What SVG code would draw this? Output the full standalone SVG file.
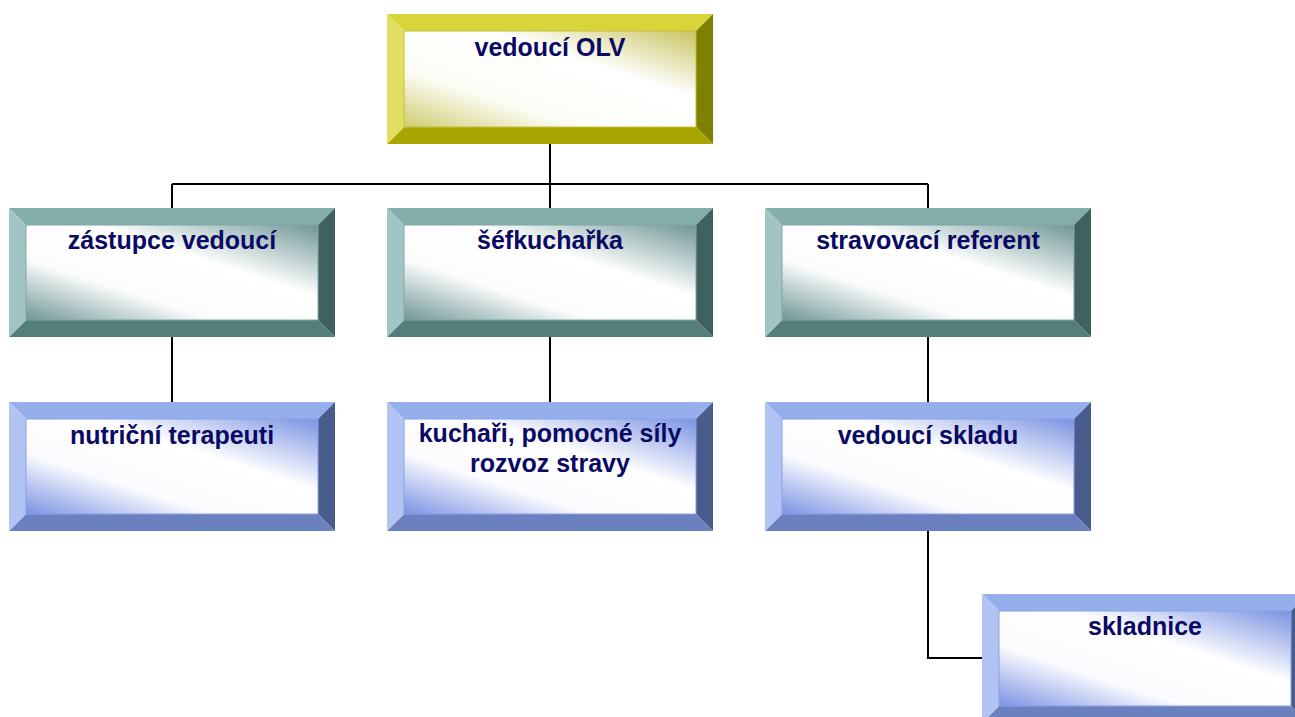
<svg xmlns="http://www.w3.org/2000/svg" width="1295" height="717" viewBox="0 0 1295 717">
<defs>
<linearGradient id="gY" x1="1" y1="0" x2="0" y2="1">
<stop offset="0" stop-color="#c8c460"/><stop offset="0.35" stop-color="#ffffff"/><stop offset="0.7" stop-color="#fdfdf6"/><stop offset="1" stop-color="#cfcc70"/>
</linearGradient>
<linearGradient id="gT" x1="1" y1="0" x2="0" y2="1">
<stop offset="0" stop-color="#6f9695"/><stop offset="0.38" stop-color="#ffffff"/><stop offset="0.68" stop-color="#fbfcfc"/><stop offset="1" stop-color="#6f9695"/>
</linearGradient>
<linearGradient id="gB" x1="1" y1="0" x2="0" y2="1">
<stop offset="0" stop-color="#7a92e2"/><stop offset="0.38" stop-color="#ffffff"/><stop offset="0.68" stop-color="#fbfbff"/><stop offset="1" stop-color="#7a92e2"/>
</linearGradient>
</defs>
<style>
text{font-family:"Liberation Sans",Arial,sans-serif;font-weight:bold;font-size:25px;fill:#0a0a64;text-anchor:middle}
.y .t{fill:#d8d43a}.y .l{fill:#e2de62}.y .r{fill:#7f7f00}.y .b{fill:#a8a400}.y .i{fill:url(#gY);stroke:#c4c040;stroke-width:1}
.tl .t{fill:#83aeab}.tl .l{fill:#a2c5c3}.tl .r{fill:#3f6160}.tl .b{fill:#537e7c}.tl .i{fill:url(#gT);stroke:#80a8a6;stroke-width:1}
.bl .t{fill:#95aeec}.bl .l{fill:#b0c3f3}.bl .r{fill:#4a5c8c}.bl .b{fill:#6a80bf}.bl .i{fill:url(#gB);stroke:#8aa2e8;stroke-width:1}
.conn path{fill:none;stroke:#000;stroke-width:2}
</style>
<g class="conn" id="connectors">
<path d="M550 144V184M172 184H928M172 184V208M550 184V208M928 184V208"/>
<path d="M172 337V402M550 337V402M928 337V402"/>
<path d="M928 531V658H982"/>
</g>
<g id="vedouci-olv" class="y">
<polygon class="t" points="387,14 713,14 696,31 404,31"/>
<polygon class="r" points="713,14 713,144 696,127 696,31"/>
<polygon class="b" points="387,144 713,144 696,127 404,127"/>
<polygon class="l" points="387,14 404,31 404,127 387,144"/>
<rect class="i" x="404" y="31" width="292" height="96"/>
<text x="550" y="56">vedoucí OLV</text>
</g>
<g id="zastupce" class="tl">
<polygon class="t" points="9,208 335,208 318,225 26,225"/>
<polygon class="r" points="335,208 335,337 318,320 318,225"/>
<polygon class="b" points="9,337 335,337 318,320 26,320"/>
<polygon class="l" points="9,208 26,225 26,320 9,337"/>
<rect class="i" x="26" y="225" width="292" height="95"/>
<text x="172" y="249">zástupce vedoucí</text>
</g>
<g id="sefkucharka" class="tl">
<polygon class="t" points="387,208 713,208 696,225 404,225"/>
<polygon class="r" points="713,208 713,337 696,320 696,225"/>
<polygon class="b" points="387,337 713,337 696,320 404,320"/>
<polygon class="l" points="387,208 404,225 404,320 387,337"/>
<rect class="i" x="404" y="225" width="292" height="95"/>
<text x="550" y="249">šéfkuchařka</text>
</g>
<g id="stravovaci" class="tl">
<polygon class="t" points="765,208 1091,208 1074,225 782,225"/>
<polygon class="r" points="1091,208 1091,337 1074,320 1074,225"/>
<polygon class="b" points="765,337 1091,337 1074,320 782,320"/>
<polygon class="l" points="765,208 782,225 782,320 765,337"/>
<rect class="i" x="782" y="225" width="292" height="95"/>
<text x="928" y="249">stravovací referent</text>
</g>
<g id="nutricni" class="bl">
<polygon class="t" points="9,402 335,402 318,419 26,419"/>
<polygon class="r" points="335,402 335,531 318,514 318,419"/>
<polygon class="b" points="9,531 335,531 318,514 26,514"/>
<polygon class="l" points="9,402 26,419 26,514 9,531"/>
<rect class="i" x="26" y="419" width="292" height="95"/>
<text x="172" y="444">nutriční terapeuti</text>
</g>
<g id="kuchari" class="bl">
<polygon class="t" points="387,402 713,402 696,419 404,419"/>
<polygon class="r" points="713,402 713,531 696,514 696,419"/>
<polygon class="b" points="387,531 713,531 696,514 404,514"/>
<polygon class="l" points="387,402 404,419 404,514 387,531"/>
<rect class="i" x="404" y="419" width="292" height="95"/>
<text x="550" y="442">kuchaři, pomocné síly</text>
<text x="550" y="472">rozvoz stravy</text>
</g>
<g id="vedouci-skladu" class="bl">
<polygon class="t" points="765,402 1091,402 1074,419 782,419"/>
<polygon class="r" points="1091,402 1091,531 1074,514 1074,419"/>
<polygon class="b" points="765,531 1091,531 1074,514 782,514"/>
<polygon class="l" points="765,402 782,419 782,514 765,531"/>
<rect class="i" x="782" y="419" width="292" height="95"/>
<text x="928" y="444">vedoucí skladu</text>
</g>
<g id="skladnice" class="bl">
<polygon class="t" points="982,594 1308,594 1291,611 999,611"/>
<polygon class="r" points="1308,594 1308,723 1291,706 1291,611"/>
<polygon class="b" points="982,723 1308,723 1291,706 999,706"/>
<polygon class="l" points="982,594 999,611 999,706 982,723"/>
<rect class="i" x="999" y="611" width="292" height="95"/>
<text x="1145" y="635">skladnice</text>
</g>
</svg>
